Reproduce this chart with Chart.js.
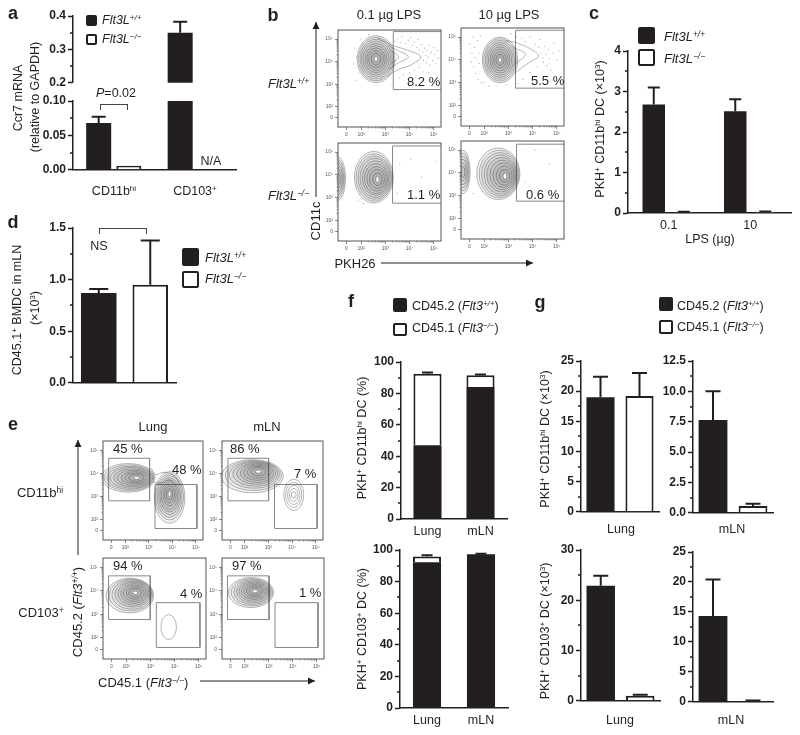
<!DOCTYPE html>
<html>
<head>
<meta charset="utf-8">
<script src="https://cdn.jsdelivr.net/npm/chart.js@4/dist/chart.umd.min.js"></script>
<style>
  body { margin: 0; background: #fff; width: 800px; height: 735px; position: relative; overflow: hidden; font-family: "Liberation Sans", Arial, sans-serif; color: #231f20; }
  canvas { position: absolute; }
  canvas.facs { filter: blur(0.35px); }
  .t { position: absolute; white-space: nowrap; line-height: 1; z-index: 3; }
  .t sup { font-size: 65%; line-height: 0; vertical-align: baseline; position: relative; top: -0.45em; }
  .sq { position: absolute; box-sizing: border-box; border: 2.5px solid #231f20; border-radius: 2px; background: #fff; }
  .sq.dark { background: #231f20; }
  .br { position: absolute; box-sizing: border-box; border: 1px solid #444; border-bottom: 0; }
  svg { position: absolute; left: 0; top: 0; z-index: 2; }
</style>
</head>
<body>
<svg id="arrows" width="800" height="735"></svg>
<script>
const ink = '#231f20';

// panel a, broken axis
const aCategories = ['CD11bhi', 'CD103+'];
const aWtLower = [0.068, 0.35];
const aWtLowerErr = [0.077, null];
const aKoLower = [0.006, null];
const aWtUpper = [null, 0.35];
const aWtUpperErr = [null, 0.383];

// panel c
const cCategories = ['0.1', '10'];
const cWt = [2.68, 2.51];
const cWtErr = [3.1, 2.81];
const cKo = [0.02, 0.03];
const cKoErr = [0.03, 0.04];

// panel d
const dCategories = ['Flt3L+/+', 'Flt3L-/-'];
const dMean = [0.87, 0.95];
const dErr = [0.91, 1.38];

// panel f, stacked
const organs = ['Lung', 'mLN'];
const fTopCd452 = [47, 84];
const fTopCd451 = [45.5, 7.5];
const fTopErr = [93.3, 92];
const fBotCd452 = [92.3, 97.3];
const fBotCd451 = [3.6, 0.2];
const fBotErr = [96.6, 97.6];

// panel g
const gGroups = ['CD45.2', 'CD45.1'];
const gTopLung = [19, 19.2];
const gTopLungErr = [22.4, 23];
const gTopMln = [7.65, 0.55];
const gTopMlnErr = [10, 0.75];
const gBotLung = [22.9, 1];
const gBotLungErr = [24.9, 1.2];
const gBotMln = [14.3, 0.15];
const gBotMlnErr = [20.4, 0.2];

// flow plots: axes are in log10 units, the "0" tick sits on the biexponential part
const facsXTicks = [1.4, 2, 3, 4, 5];
const facsYTicks = [1.52, 2, 3, 4, 5];
const facsTickLabels = ['0', '10²', '10³', '10⁴', '10⁵'];

// gates [x1, x2, y1, y2]
const bGateTL = [3.33, 5.4, 2.76, 5.33];
const bGateTR = [3.3, 5.4, 2.76, 5.3];
const bGateBL = [3.3, 5.4, 2.76, 5.27];
const bGateBR = [3.34, 5.4, 2.76, 5.26];
const eGatesTL = [[1.29, 3.03, 2.8, 4.65], [3.26, 5.04, 1.6, 3.51]];
const eGatesTR = [[1.3, 3.01, 2.8, 4.65], [3.26, 5.05, 1.6, 3.51]];
const eGatesBL = [[1.28, 3.0, 2.78, 4.64], [3.25, 5.05, 1.59, 3.5]];
const eGatesBR = [[1.28, 3.01, 2.78, 4.64], [3.26, 5.05, 1.59, 3.5]];

// contour rings, outermost first
function blob(cx, cy, rxs, rys, core = true) {
  return { core, rows: rxs.map((rx, i) => ({
    x: Array.isArray(cx) ? cx[i] : cx,
    y: Array.isArray(cy) ? cy[i] : cy,
    rx, ry: rys[i]
  })) };
}
const bRingsTL = [blob(2.62, 4.11, [.78,.72,.66,.6,.54,.46,.38,.3,.2,.08], [1.04,.96,.88,.8,.7,.6,.5,.38,.26,.1])];
const bRingsTR = [blob(2.66, 4.0, [.73,.67,.61,.55,.48,.41,.34,.26,.17,.07], [1.0,.93,.85,.77,.68,.58,.48,.36,.24,.1])];
const bRingsBL = [
  blob(1.02, 3.84, [.34,.3,.26,.22,.17,.12], [.97,.85,.73,.6,.45,.28], false),
  blob([2.53,2.54,2.56,2.58,2.6,2.62,2.64,2.66,2.68,2.68], [3.9,3.89,3.88,3.87,3.86,3.84,3.83,3.82,3.81,3.8], [.8,.74,.68,.62,.55,.48,.4,.31,.2,.07], [1.13,1.04,.95,.86,.76,.66,.54,.42,.28,.13])
];
const bRingsBR = [
  blob(1.13, 4.04, [.3,.26,.22,.18,.13,.08], [.95,.83,.7,.56,.4,.24], false),
  blob([2.59,2.62,2.65,2.68,2.72,2.76,2.8,2.83,2.85,2.86], [3.96,3.95,3.94,3.93,3.92,3.91,3.9,3.88,3.87,3.86], [.89,.82,.75,.67,.6,.52,.43,.33,.22,.07], [1.13,1.04,.95,.86,.76,.65,.54,.42,.28,.13])
];
const eRingsTL = [
  blob([2.12,2.16,2.2,2.25,2.3,2.35,2.4,2.43,2.46,2.48], 3.8, [1.14,1.06,.98,.9,.8,.7,.58,.45,.32,.13], [.62,.56,.5,.45,.39,.33,.27,.21,.15,.06]),
  blob(3.88, [2.95,2.97,2.99,3.0,3.02,3.03,3.05,3.07,3.08,3.1], [.65,.59,.53,.47,.41,.35,.28,.21,.14,.06], [1.12,1.0,.9,.8,.7,.6,.48,.37,.25,.12])
];
const eRingsTR = [
  blob([2.33,2.37,2.41,2.45,2.49,2.52,2.54,2.56,2.58,2.58], [3.87,3.9,3.93,3.96,3.98,4.0,4.02,4.04,4.06,4.07], [1.3,1.18,1.06,.94,.82,.7,.58,.45,.32,.12], [.72,.65,.58,.52,.46,.4,.33,.26,.18,.07]),
  blob(4.07, 3.06, [.42,.34,.26,.18,.1], [.68,.55,.42,.28,.14], false)
];
const eRingsBL = [
  blob([2.16,2.2,2.24,2.28,2.31,2.34,2.36,2.38,2.38,2.38], [3.8,3.82,3.84,3.86,3.88,3.89,3.9,3.91,3.92,3.92], [.98,.9,.82,.74,.65,.56,.47,.37,.26,.1], [.74,.68,.62,.55,.49,.42,.35,.27,.19,.07]),
  blob(3.76, 2.46, [.32], [.53], false)
];
const eRingsBR = [
  blob([2.26,2.29,2.32,2.35,2.37,2.39,2.41,2.42,2.43,2.43], [3.93,3.94,3.95,3.96,3.97,3.98,3.98,3.99,3.99,3.99], [.94,.86,.78,.7,.62,.54,.45,.35,.25,.1], [.64,.58,.53,.47,.41,.35,.29,.23,.16,.07])
];

// outlines that are not ellipses (tails and bridges)
const bTailsTL = [
  [[2.68,5.04],[3.3,4.72],[4.05,4.46],[4.46,4.21],[4.05,3.85],[3.5,3.63],[3.09,3.34]],
  [[3.1,4.72],[3.5,4.5],[3.95,4.21],[3.5,3.92],[3.15,3.65]],
  [[3.2,4.5],[3.55,4.21],[3.25,3.9]]
];
const bTailsTR = [
  [[2.9,4.85],[3.41,4.73],[4.09,4.37],[4.25,4.15],[3.95,3.95],[3.68,3.75],[3.27,3.42]],
  [[3.2,4.55],[3.7,4.25],[3.25,3.8]]
];
const eTailsTL = [
  [[3.1,4.22],[3.29,3.94],[3.6,4.04],[4.02,3.94],[4.38,3.44]],
  [[3.2,3.6],[3.53,3.58],[3.88,3.7],[4.16,3.44]]
];

// background events
const bDotsTL = [[3.4,4.9],[3.5,5.0],[3.62,4.85],[3.7,5.1],[3.85,4.8],[3.95,4.95],[4.05,5.05],[4.12,4.72],[4.2,4.88],[4.3,4.62],[4.35,4.98],[4.42,4.5],[4.5,4.75],[4.55,4.42],[4.58,4.05],[4.62,4.6],[4.66,4.28],[4.7,3.95],[4.72,4.5],[4.78,4.2],[4.82,4.72],[4.85,3.85],[4.9,4.4],[4.95,4.05],[5.0,4.62],[5.05,4.3],[5.1,3.9],[5.15,4.5],[5.2,4.15],[4.4,3.75],[4.2,3.6],[4.0,3.5],[3.75,3.4],[3.6,3.28],[4.55,3.55],[4.8,3.5],[1.75,4.6],[1.82,4.2],[1.7,3.9],[1.9,3.5],[1.78,3.15],[2.0,5.0],[2.3,5.2]];
const bDotsTR = [[1.42,4.7],[1.5,4.3],[1.48,3.9],[1.55,5.0],[1.6,4.55],[1.62,4.1],[1.58,3.7],[1.65,3.4],[1.72,4.85],[1.75,3.15],[1.78,4.3],[1.8,3.85],[1.85,5.05],[1.88,3.0],[2.0,3.0],[2.2,2.85],[2.5,2.85],[2.9,2.9],[3.1,5.15],[3.35,5.0],[3.55,4.95],[3.7,4.8],[3.9,5.0],[4.1,4.7],[4.25,4.55],[4.3,4.9],[4.35,4.3],[4.4,4.1],[4.45,3.9],[4.5,4.6],[4.55,4.25],[4.6,3.75],[4.65,4.45],[4.7,4.05],[4.75,3.55],[4.85,4.3],[4.9,4.75],[5.0,4.0],[5.1,4.4],[4.2,3.7],[3.9,3.45],[3.6,3.15],[3.4,2.95]];
const bDotsBL = [[3.6,4.5],[4.05,4.7],[4.5,3.9],[5.1,4.6],[1.9,2.9],[2.1,2.75],[3.5,3.2]];
const bDotsBR = [[4.1,5.0],[4.7,4.4],[1.55,3.1],[3.7,3.6]];

// layout helpers
function canvasAt(left, top, width, height, cls) {
  const c = document.createElement('canvas');
  c.width = width;
  c.height = height;
  c.style.left = left + 'px';
  c.style.top = top + 'px';
  if (cls) c.className = cls;
  document.body.appendChild(c);
  return c.getContext('2d');
}

function label(html, x, y, opts = {}) {
  const el = document.createElement('div');
  el.className = 't';
  el.innerHTML = html;
  el.style.left = x + 'px';
  el.style.top = y + 'px';
  el.style.fontSize = (opts.size || 12.5) + 'px';
  if (opts.bold) el.style.fontWeight = 'bold';
  let tf = opts.left ? 'translate(0,-50%)' : 'translate(-50%,-50%)';
  if (opts.rot) tf += ' rotate(-90deg)';
  el.style.transform = tf;
  document.body.appendChild(el);
}

function square(x, y, w, h, dark) {
  const el = document.createElement('div');
  el.className = dark ? 'sq dark' : 'sq';
  el.style.cssText = `left:${x}px;top:${y}px;width:${w}px;height:${h}px`;
  document.body.appendChild(el);
}

function bracket(x1, x2, top, h) {
  const el = document.createElement('div');
  el.className = 'br';
  el.style.cssText = `left:${x1}px;top:${top}px;width:${x2 - x1}px;height:${h}px`;
  document.body.appendChild(el);
}

function arrow(x1, y1, x2, y2) {
  const svg = document.getElementById('arrows');
  const horiz = y1 === y2;
  const head = horiz
    ? `${x2},${y2} ${x2 - 7},${y2 - 3.5} ${x2 - 7},${y2 + 3.5}`
    : `${x2},${y2} ${x2 - 3.5},${y2 + 7} ${x2 + 3.5},${y2 + 7}`;
  svg.innerHTML += `<line x1="${x1}" y1="${y1}" x2="${x2}" y2="${y2}" stroke="${ink}" stroke-width="1"/><polygon points="${head}" fill="${ink}"/>`;
}

// error bars and the short in-between y ticks
const barExtras = {
  id: 'barExtras',
  afterDraw(chart) {
    const { ctx, scales: { y } } = chart;
    const cap = chart.options.plugins.barExtras.cap;
    ctx.save();
    ctx.strokeStyle = ink;
    ctx.lineWidth = 1.5;
    const ticks = y.ticks;
    for (let i = 0; i < ticks.length - 1; i++) {
      const py = Math.round(y.getPixelForValue((ticks[i].value + ticks[i + 1].value) / 2));
      ctx.beginPath();
      ctx.moveTo(y.right, py);
      ctx.lineTo(y.right - 3, py);
      ctx.stroke();
    }
    ctx.lineWidth = 2;
    chart.data.datasets.forEach((ds, d) => {
      if (!ds.errTop) return;
      chart.getDatasetMeta(d).data.forEach((bar, i) => {
        if (ds.errTop[i] == null) return;
        const top = y.getPixelForValue(ds.errTop[i]);
        ctx.beginPath();
        ctx.moveTo(bar.x, bar.y);
        ctx.lineTo(bar.x, top);
        ctx.moveTo(bar.x - cap / 2, top);
        ctx.lineTo(bar.x + cap / 2, top);
        ctx.stroke();
      });
    });
    ctx.restore();
  }
};

function darkBars(data, errTop) {
  return { data, errTop, backgroundColor: ink, borderColor: ink, borderWidth: 0 };
}
function lightBars(data, errTop) {
  return { data, errTop, backgroundColor: '#fff', borderColor: ink, borderWidth: 2 };
}
// first bar filled, second open, for the panels with one bar per genotype
function pairBars(data, errTop) {
  return { data, errTop, backgroundColor: [ink, '#fff'], borderColor: ink, borderWidth: [0, 2] };
}

function barChart(o) {
  const yW = 44, xH = o.showX ? (o.xH || 20) : 0, padT = 10, padR = 6, padB = 3;
  const ctx = canvasAt(o.left - yW, o.top - padT, o.right - o.left + yW + padR, o.bottom - o.top + padT + xH + padB);
  new Chart(ctx, {
    type: 'bar',
    data: { labels: o.labels, datasets: o.datasets },
    plugins: [barExtras],
    options: {
      responsive: false,
      animation: false,
      layout: { padding: { top: padT, right: padR, bottom: padB, left: 0 } },
      datasets: { bar: { barPercentage: o.barPct, categoryPercentage: o.catPct } },
      plugins: { legend: { display: false }, tooltip: { enabled: false }, barExtras: { cap: o.cap } },
      scales: {
        x: {
          display: !o.noXAxis,
          stacked: !!o.stacked,
          afterFit: s => { s.height = xH; },
          grid: { drawOnChartArea: false, drawTicks: false },
          border: { color: ink, width: 1.5 },
          ticks: { display: !!o.showX, color: ink, padding: 5, font: { size: 12.5 }, maxRotation: 0 }
        },
        y: {
          min: o.min, max: o.max,
          stacked: !!o.stacked,
          afterFit: s => { s.width = yW; },
          grid: { drawOnChartArea: false, tickLength: 5, tickWidth: 1.5, tickColor: ink },
          border: { color: ink, width: 1.5 },
          ticks: { stepSize: o.step, color: ink, padding: 2, font: { size: 12, weight: 'bold' }, callback: v => v.toFixed(o.dec || 0) }
        }
      }
    }
  });
}

// flow cytometry plots
const minorLog = [.3, .48, .6, .7, .78, .85, .9, .95];
const facsExtras = {
  id: 'facsExtras',
  afterDatasetsDraw(chart) {
    const { ctx, chartArea: a, scales: { x, y } } = chart;
    ctx.save();
    ctx.beginPath();
    ctx.rect(a.left, a.top, a.width, a.height);
    ctx.clip();
    chart.data.datasets.forEach(ds => {
      if (!ds.rings) return;
      ds.rings.rows.forEach((r, i) => {
        const px = x.getPixelForValue(r.x), py = y.getPixelForValue(r.y);
        const rx = Math.abs(x.getPixelForValue(r.x + r.rx) - px);
        const ry = Math.abs(y.getPixelForValue(r.y + r.ry) - py);
        ctx.beginPath();
        ctx.ellipse(px, py, rx, ry, 0, 0, Math.PI * 2);
        const last = i === ds.rings.rows.length - 1;
        if (last && ds.rings.core) {
          ctx.fillStyle = '#fff';
          ctx.fill();
        } else if (ds.rings.rows.length > 5) {
          ctx.fillStyle = 'rgba(60,60,60,0.055)';
          ctx.fill();
        }
        ctx.strokeStyle = 'rgba(50,50,50,0.6)';
        ctx.lineWidth = 0.6;
        ctx.stroke();
      });
    });
    ctx.restore();
    // frame and the log minor ticks
    ctx.save();
    ctx.strokeStyle = '#555';
    ctx.lineWidth = 1;
    ctx.strokeRect(a.left, a.top, a.width, a.height);
    ctx.lineWidth = 0.6;
    [2, 3, 4].forEach(dec => minorLog.forEach(m => {
      const px = x.getPixelForValue(dec + m), py = y.getPixelForValue(dec + m);
      ctx.beginPath();
      ctx.moveTo(px, a.bottom);
      ctx.lineTo(px, a.bottom + 1.5);
      ctx.moveTo(a.left, py);
      ctx.lineTo(a.left - 1.5, py);
      ctx.stroke();
    }));
    ctx.restore();
  }
};

function facsPlot(left, top, right, bottom, gates, rings, tails, dots) {
  const yW = 22, xH = 16, pad = 3;
  const ctx = canvasAt(left - yW, top - pad, right - left + yW + pad, bottom - top + pad + xH, 'facs');
  const datasets = [];
  if (dots) datasets.push({ data: dots.map(d => ({ x: d[0], y: d[1] })), pointRadius: 0.6, backgroundColor: '#a5a5a5', borderWidth: 0, showLine: false });
  rings.forEach(r => datasets.push({ rings: r, data: r.rows.map(p => ({ x: p.x, y: p.y })), pointRadius: 0, showLine: false }));
  (tails || []).forEach(t => datasets.push({ data: t.map(d => ({ x: d[0], y: d[1] })), showLine: true, tension: 0.4, borderColor: 'rgba(50,50,50,0.6)', borderWidth: 0.6, pointRadius: 0 }));
  gates.forEach(g => datasets.push({
    data: [{ x: g[0], y: g[2] }, { x: g[0], y: g[3] }, { x: g[1], y: g[3] }, { x: g[1], y: g[2] }, { x: g[0], y: g[2] }],
    showLine: true, borderColor: '#888', borderWidth: 1, pointRadius: 0
  }));
  const tickOpts = values => ({
    color: '#555', padding: 2, font: { size: 5 }, autoSkip: false, maxRotation: 0,
    callback: v => facsTickLabels[values.indexOf(v)]
  });
  new Chart(ctx, {
    type: 'scatter',
    data: { datasets },
    plugins: [facsExtras],
    options: {
      responsive: false,
      animation: false,
      layout: { padding: { top: pad, right: pad, left: 0, bottom: 0 } },
      plugins: { legend: { display: false }, tooltip: { enabled: false } },
      scales: {
        x: {
          type: 'linear', min: 1.05, max: 5.3,
          afterBuildTicks: s => { s.ticks = facsXTicks.map(value => ({ value })); },
          afterFit: s => { s.height = xH; },
          grid: { drawOnChartArea: false, tickLength: 3, tickColor: '#555', tickWidth: 0.7 },
          border: { display: false },
          ticks: tickOpts(facsXTicks)
        },
        y: {
          type: 'linear', min: 1.1, max: 5.4,
          afterBuildTicks: s => { s.ticks = facsYTicks.map(value => ({ value })); },
          afterFit: s => { s.width = yW; },
          grid: { drawOnChartArea: false, tickLength: 3, tickColor: '#555', tickWidth: 0.7 },
          border: { display: false },
          ticks: tickOpts(facsYTicks)
        }
      }
    }
  });
}

Chart.defaults.font.family = '"Liberation Sans", Arial, sans-serif';

// a
barChart({ left: 73, right: 236, top: 16, bottom: 89, labels: aCategories, noXAxis: true, min: 0.2, max: 0.4, step: 0.1, dec: 1, barPct: 0.83, catPct: 0.74, cap: 14,
  datasets: [darkBars(aWtUpper, aWtUpperErr), lightBars([null, null])] });
barChart({ left: 73, right: 236, top: 101, bottom: 176, labels: aCategories, min: 0, max: 0.1, step: 0.05, dec: 2, barPct: 0.83, catPct: 0.74, cap: 14,
  datasets: [darkBars(aWtLower, aWtLowerErr), lightBars(aKoLower)] });

// c
barChart({ left: 628, right: 791, top: 51, bottom: 213, labels: cCategories, showX: true, min: 0, max: 4, step: 1, barPct: 0.75, catPct: 0.736, cap: 12,
  datasets: [darkBars(cWt, cWtErr), lightBars(cKo, cKoErr)] });

// d
barChart({ left: 73, right: 176, top: 228, bottom: 389, labels: dCategories, min: 0, max: 1.5, step: 0.5, dec: 1, barPct: 0.69, catPct: 1, cap: 19,
  datasets: [pairBars(dMean, dErr)] });

// f
barChart({ left: 401, right: 507, top: 362, bottom: 519, labels: organs, showX: true, stacked: true, min: 0, max: 100, step: 20, barPct: 0.53, catPct: 1, cap: 11,
  datasets: [darkBars(fTopCd452), lightBars(fTopCd451, fTopErr)] });
barChart({ left: 400, right: 508, top: 550, bottom: 708, labels: organs, showX: true, stacked: true, min: 0, max: 100, step: 20, barPct: 0.52, catPct: 1, cap: 11,
  datasets: [darkBars(fBotCd452), lightBars(fBotCd451, fBotErr)] });

// g
function gChart(left, right, top, bottom, max, step, dec, vals, errs) {
  barChart({ left, right, top, bottom, labels: gGroups, min: 0, max, step, dec, barPct: 0.72, catPct: 1, cap: 15,
    datasets: [pairBars(vals, errs)] });
}
gChart(581, 659, 361, 518, 25, 5, 0, gTopLung, gTopLungErr);
gChart(693, 773, 361, 519, 12.5, 2.5, 1, gTopMln, gTopMlnErr);
gChart(581, 660, 550, 707, 30, 10, 0, gBotLung, gBotLungErr);
gChart(693, 773, 552, 708, 25, 5, 0, gBotMln, gBotMlnErr);

// b
facsPlot(338, 28, 442, 127, [bGateTL], bRingsTL, bTailsTL, bDotsTL);
facsPlot(461, 26, 565, 126, [bGateTR], bRingsTR, bTailsTR, bDotsTR);
facsPlot(338, 141, 442, 241, [bGateBL], bRingsBL, null, bDotsBL);
facsPlot(461, 139, 565, 239, [bGateBR], bRingsBR, null, bDotsBR);

// e
facsPlot(103, 439, 203, 540, eGatesTL, eRingsTL, eTailsTL);
facsPlot(222, 439, 323, 540, eGatesTR, eRingsTR);
facsPlot(103, 556, 206, 659, eGatesBL, eRingsBL);
facsPlot(222, 556, 324, 659, eGatesBR, eRingsBR);

// panel letters
[['a', 13, 13], ['b', 273, 15], ['c', 594, 13], ['d', 13, 222], ['e', 13, 424], ['f', 351, 301], ['g', 540, 302]]
  .forEach(p => label(p[0], p[1], p[2], { size: 18, bold: true }));

const wt = '<i>Flt3L</i><sup><i>+/+</i></sup>', ko = '<i>Flt3L</i><sup><i>−/−</i></sup>';
const wt3 = '<i>Flt3</i><sup><i>+/+</i></sup>', ko3 = '<i>Flt3</i><sup><i>−/−</i></sup>';

// a text
label('Ccr7 mRNA', 18, 98, { rot: true });
label('(relative to GAPDH)', 35, 97, { rot: true });
square(86, 15, 11, 11, true); label(wt, 102, 20, { left: true });
square(86, 34, 11, 11); label(ko, 102, 39, { left: true });
label('<i>P</i>=0.02', 116, 93);
bracket(100, 128, 104, 6);
label('N/A', 211, 161);
label('CD11b<sup>hi</sup>', 114, 191);
label('CD103<sup>+</sup>', 195, 191);

// b text
label('0.1 µg LPS', 389, 14, { size: 13 });
label('10 µg LPS', 509, 14, { size: 13 });
label(wt, 268, 83, { left: true, size: 13 });
label(ko, 268, 195, { left: true, size: 13 });
label('CD11c', 315, 221, { rot: true, size: 13 });
label('PKH26', 355, 263, { size: 13 });
arrow(316, 197, 316, 22);
arrow(381, 263, 533, 263);
label('8.2 %', 407, 81, { left: true, size: 13 });
label('5.5 %', 531, 80, { left: true, size: 13 });
label('1.1 %', 407, 194, { left: true, size: 13 });
label('0.6 %', 526, 194, { left: true, size: 13 });

// c text
label('PKH<sup>+</sup> CD11b<sup>hi</sup> DC (×10<sup>3</sup>)', 600, 129, { rot: true });
square(638, 27, 17, 17, true); label(wt, 664, 36, { left: true, size: 13 });
square(638, 49, 17, 17); label(ko, 664, 58, { left: true, size: 13 });
label('LPS (µg)', 710, 239);

// d text
label('CD45.1<sup>+</sup> BMDC in mLN', 17, 310, { rot: true });
label('(×10<sup>3</sup>)', 35, 308, { rot: true });
bracket(99, 147, 228, 6);
label('NS', 99, 246);
square(182, 248, 17, 18, true); label(wt, 205, 257, { left: true, size: 13 });
square(182, 271, 17, 17); label(ko, 205, 278, { left: true, size: 13 });

// e text
label('Lung', 153, 426, { size: 13 });
label('mLN', 267, 426, { size: 13 });
label('CD11b<sup>hi</sup>', 40, 492, { size: 13 });
label('CD103<sup>+</sup>', 41, 612, { size: 13 });
label('CD45.2 (' + wt3 + ')', 77, 612, { rot: true, size: 13 });
label('CD45.1 (' + ko3 + ')', 98, 682, { left: true, size: 13 });
arrow(78, 555, 78, 440);
arrow(200, 681, 315, 681);
[['45 %', 113, 448], ['48 %', 172, 469], ['86 %', 230, 448], ['7 %', 294, 473],
 ['94 %', 113, 565], ['4 %', 180, 593], ['97 %', 232, 565], ['1 %', 299, 592]]
  .forEach(p => label(p[0], p[1], p[2], { left: true, size: 13 }));

// f text
square(393, 298, 14, 14, true); label('CD45.2 (' + wt3 + ')', 412, 306, { left: true });
square(393, 323, 14, 13); label('CD45.1 (' + ko3 + ')', 412, 328, { left: true });
label('PKH<sup>+</sup> CD11b<sup>hi</sup> DC (%)', 362, 438, { rot: true });
label('PKH<sup>+</sup> CD103<sup>+</sup> DC (%)', 362, 629, { rot: true });

// g text
square(659, 297, 14, 14, true); label('CD45.2 (' + wt3 + ')', 677, 306, { left: true });
square(659, 320, 14, 14); label('CD45.1 (' + ko3 + ')', 677, 327, { left: true });
label('PKH<sup>+</sup> CD11b<sup>hi</sup> DC (×10<sup>3</sup>)', 545, 439, { rot: true });
label('PKH<sup>+</sup> CD103<sup>+</sup> DC (×10<sup>3</sup>)', 545, 631, { rot: true });
label('Lung', 621, 529);
label('mLN', 732, 529);
label('Lung', 620, 720);
label('mLN', 731, 720);
</script>
</body>
</html>
